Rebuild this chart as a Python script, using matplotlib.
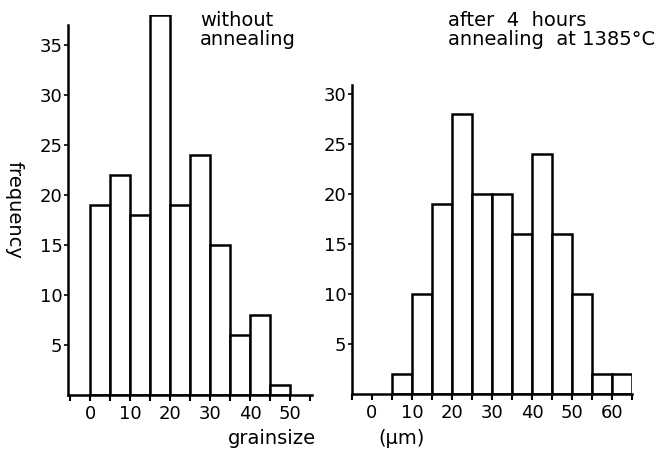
import numpy as np
import matplotlib
matplotlib.use('Agg')
import matplotlib.pyplot as plt

# bin left edges and counts, bins are 5 um wide
left_bins = [0, 5, 10, 15, 20, 25, 30, 35, 40, 45]
left_counts = [19, 22, 18, 38, 19, 24, 15, 6, 8, 1]

right_bins = [5, 10, 15, 20, 25, 30, 35, 40, 45, 50, 55, 60]
right_counts = [2, 10, 19, 28, 20, 20, 16, 24, 16, 10, 2, 2]

left_xticks = [0, 10, 20, 30, 40, 50]
right_xticks = [0, 10, 20, 30, 40, 50, 60]
left_yticks = [5, 10, 15, 20, 25, 30, 35]
right_yticks = [5, 10, 15, 20, 25, 30]

plt.rcParams['font.family'] = 'DejaVu Sans'
fs = 13

W, H = 665, 450
fig = plt.figure(figsize=(W / 100, H / 100), dpi=100)

# axes placed in pixel coords (left, top, right, bottom)
def make_ax(l, t, r, b):
    return fig.add_axes([l / W, (H - b) / H, (r - l) / W, (b - t) / H])

def style(ax, xticks, yticks, ytop):
    for s in ['top', 'right']:
        ax.spines[s].set_visible(False)
    for s in ['left', 'bottom']:
        ax.spines[s].set_linewidth(1.8)
    ax.spines['left'].set_bounds(0, ytop)
    ax.set_xticks(xticks)
    ax.set_xticks(np.arange(-5, xticks[-1] + 6, 5), minor=True)
    ax.set_yticks(yticks)
    ax.tick_params(axis='x', which='both', direction='out', length=4, width=1.5,
                   labelsize=fs, pad=3)
    ax.tick_params(axis='y', direction='out', length=3, width=1.2,
                   labelsize=fs, pad=1)

# left: no annealing
ax1 = make_ax(68, 15, 312, 395)
ax1.bar(left_bins, left_counts, width=5, align='edge', facecolor='white',
        edgecolor='black', linewidth=1.8)
ax1.set_xlim(-5.5, 55.5)
ax1.set_ylim(0, 38)
style(ax1, left_xticks, left_yticks, 37)

# right: after annealing
ax2 = make_ax(352, 85, 632, 394)
ax2.bar(right_bins, right_counts, width=5, align='edge', facecolor='white',
        edgecolor='black', linewidth=1.8)
ax2.set_xlim(-5, 65)
ax2.set_ylim(0, 30.9)
style(ax2, right_xticks, right_yticks, 30.9)

fs_t = 14
fig.text(200 / W, 1 - 30 / H, 'without\nannealing', fontsize=fs_t,
         va='center', ha='left', linespacing=0.95)
fig.text(448 / W, 1 - 30 / H, 'after  4  hours\nannealing  at 1385°C', fontsize=fs_t,
         va='center', ha='left', linespacing=0.95)
fig.text(14 / W, 1 - 210 / H, 'frequency', fontsize=fs_t, rotation=-90,
         va='center', ha='center')
fig.text(228 / W, 1 - 438 / H, 'grainsize', fontsize=fs_t, va='center', ha='left')
fig.text(378 / W, 1 - 438 / H, '(μm)', fontsize=fs_t, va='center', ha='left')

fig.savefig('out.png', dpi=100)
